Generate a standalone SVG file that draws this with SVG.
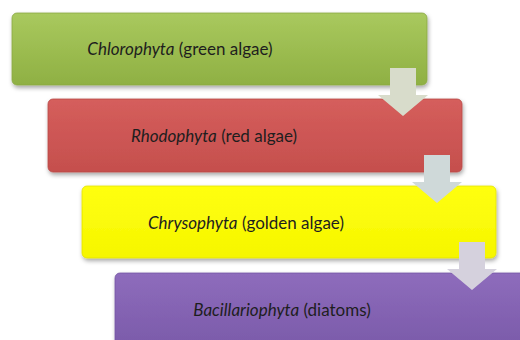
<svg xmlns="http://www.w3.org/2000/svg" width="520" height="340" viewBox="0 0 520 340">
  <defs>
    <linearGradient id="gGreen" x1="0" y1="0" x2="0" y2="1">
      <stop offset="0" stop-color="#a9c95e"/>
      <stop offset="1" stop-color="#8fb043"/>
    </linearGradient>
    <linearGradient id="gRed" x1="0" y1="0" x2="0" y2="1">
      <stop offset="0" stop-color="#d55e5c"/>
      <stop offset="1" stop-color="#c54f4d"/>
    </linearGradient>
    <linearGradient id="gYellow" x1="0" y1="0" x2="0" y2="1">
      <stop offset="0" stop-color="#ffff10"/>
      <stop offset="1" stop-color="#f6f600"/>
    </linearGradient>
    <linearGradient id="gPurple" x1="0" y1="0" x2="0" y2="1">
      <stop offset="0" stop-color="#8e6cbc"/>
      <stop offset="1" stop-color="#7b5baa"/>
    </linearGradient>
    <filter id="shadow" x="-5%" y="-10%" width="110%" height="130%">
      <feDropShadow dx="1" dy="2.5" stdDeviation="2" flood-color="#000" flood-opacity="0.35"/>
    </filter>
  </defs>
  <style>
    .box { filter: url(#shadow); }
    .lbl { font-family: Lato, "Liberation Sans", sans-serif; font-size: 17px; fill: #1e1e1e; text-anchor: middle; }
    .it { font-style: italic; }
    .arrow { stroke: none; }
  </style>
  <rect width="520" height="340" fill="#ffffff"/>

  <g id="node-chlorophyta">
    <rect class="box" x="12" y="13" width="415" height="72" rx="5" fill="url(#gGreen)" stroke="#8aa845" stroke-width="0.8"/>
    <text class="lbl" x="180" y="54.5"><tspan class="it">Chlorophyta</tspan> (green algae)</text>
  </g>

  <g id="node-rhodophyta">
    <rect class="box" x="48" y="99" width="414" height="73" rx="5" fill="url(#gRed)" stroke="#b84a48" stroke-width="0.8"/>
    <text class="lbl" x="214" y="141.5"><tspan class="it">Rhodophyta</tspan> (red algae)</text>
  </g>

  <g id="node-chrysophyta">
    <rect class="box" x="82" y="186" width="414" height="72" rx="5" fill="url(#gYellow)" stroke="#e2e200" stroke-width="0.8"/>
    <text class="lbl" x="246" y="228.5"><tspan class="it">Chrysophyta</tspan> (golden algae)</text>
  </g>

  <g id="node-bacillariophyta">
    <rect class="box" x="115" y="273" width="414" height="72" rx="5" fill="url(#gPurple)" stroke="#7557a3" stroke-width="0.8"/>
    <text class="lbl" x="282" y="315.5"><tspan class="it">Bacillariophyta</tspan> (diatoms)</text>
  </g>

  <g id="connectors">
    <polygon class="arrow" fill="#d8dccb" points="390,68 416,68 416,95 428,95 403,116 378,95 390,95"/>
    <polygon class="arrow" fill="#cfd9d9" points="424,155 450,155 450,182 462,182 437,203 412,182 424,182"/>
    <polygon class="arrow" fill="#d5d1dd" points="459,242 485,242 485,269 497,269 472,290 447,269 459,269"/>
  </g>
</svg>
